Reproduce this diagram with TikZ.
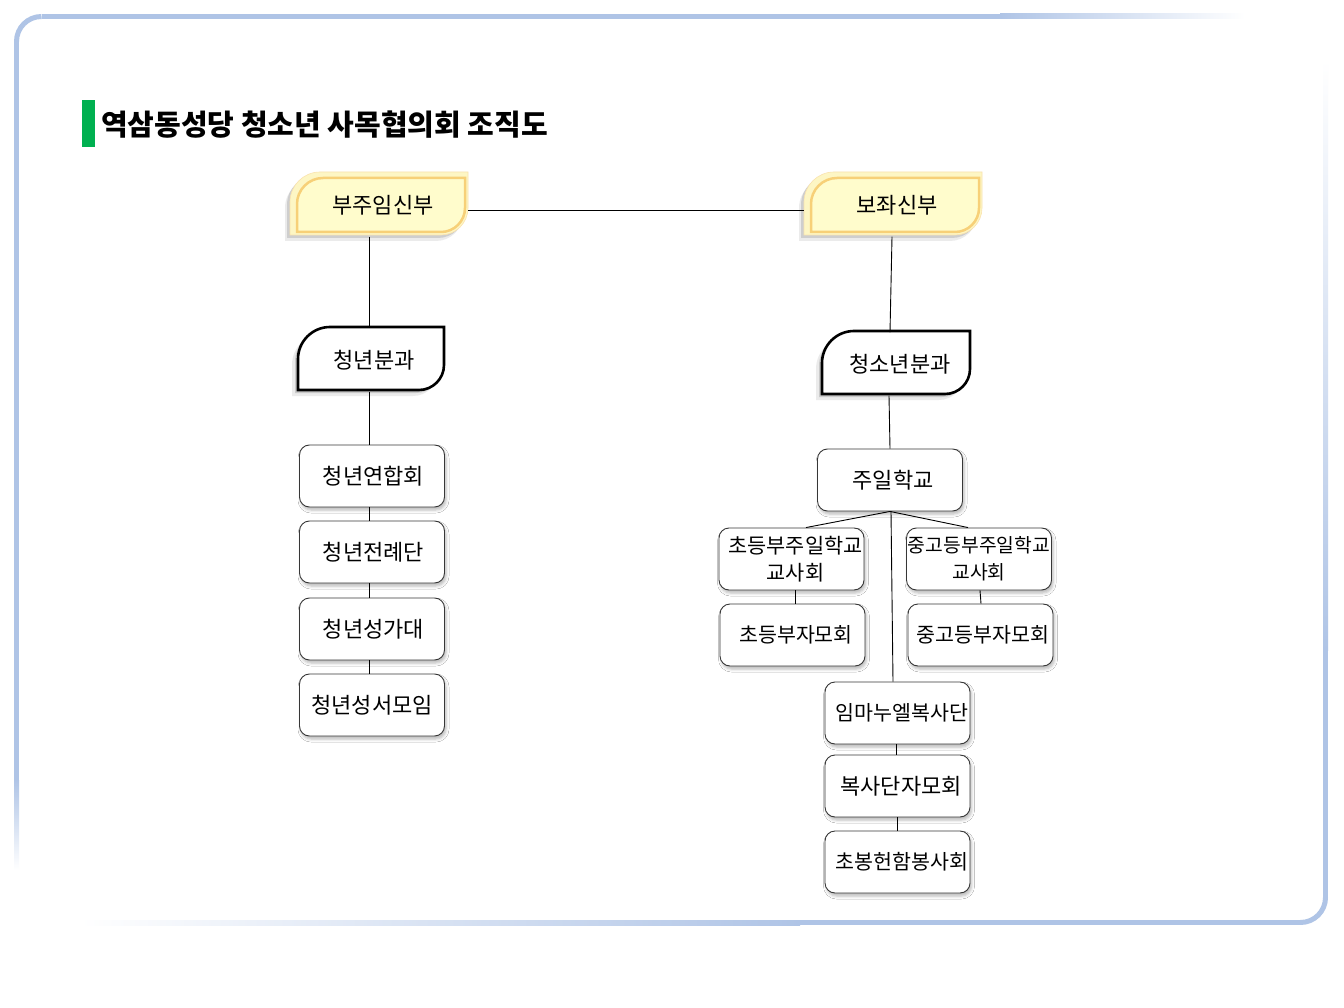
\documentclass[tikz,border=0pt]{standalone}
\usepackage{fontspec}
\setmainfont{Noto Sans CJK KR}
\usetikzlibrary{shadows.blur,calc}
\definecolor{frameblue}{RGB}{175,196,230}
\definecolor{leafyel}{RGB}{255,252,204}
\definecolor{leafout}{RGB}{253,246,196}
\definecolor{leaforange}{RGB}{247,208,120}
\definecolor{boxline}{RGB}{55,55,55}
\definecolor{titlegreen}{RGB}{0,176,80}
% x1 y1 x2 y2 rTL rBR style
\newcommand\leafshape[7]{%
  \path[#7] (#1,#4) -- (#1,#2+#5) .. controls (#1,#2+0.45*#5) and (#1+0.45*#5,#2) .. (#1+#5,#2)
    -- (#3,#2) -- (#3,#4-#6) .. controls (#3,#4-0.45*#6) and (#3-0.45*#6,#4) .. (#3-#6,#4) -- cycle;}
\newcommand\yleaf[4]{%
  \leafshape{#1-5}{#2+6}{#3-5}{#4+6}{30}{27}{fill=black,opacity=0.08}
  \leafshape{#1-3}{#2+3}{#3-3}{#4+3}{30}{27}{fill=black,opacity=0.12}
  \leafshape{#1}{#2}{#3}{#4}{30}{27}{fill=leafout,draw=leaforange!60,line width=0.6pt}
  \leafshape{#1+7}{#2+6}{#3-3}{#4-3}{26}{24}{fill=leafyel,draw=leaforange,line width=2.5pt}}
\newcommand\bleaf[4]{%
  \leafshape{#1-6}{#2+6}{#3-6}{#4+6}{32}{25}{fill=black,opacity=0.08}
  \leafshape{#1-3}{#2+3}{#3-3}{#4+3}{32}{25}{fill=black,opacity=0.14}
  \leafshape{#1}{#2}{#3}{#4}{32}{25}{fill=white,draw=black,line width=2.6pt}}
\tikzset{
  conn/.style={draw=black,line width=0.9pt},
  lbl/.style={rectangle,inner sep=0pt,minimum width=#1,minimum height=63pt,
    font=\fontsize{22}{26}\selectfont},
  rbox/.style={rectangle,rounded corners=10pt,draw=boxline,line width=0.9pt,fill=white,
    minimum width=145pt,minimum height=62pt,inner sep=0pt,align=center,
    font=\fontsize{22}{27}\selectfont,
    blur shadow={shadow xshift=1.5pt,shadow yshift=-3pt,shadow blur radius=3pt,shadow opacity=28}},
  narrow/.style={font=\fontsize{20.6}{27}\selectfont},
}
\begin{document}
\begin{tikzpicture}[x=1pt,y=-1pt]
\useasboundingbox[fill=white] (0,0) rectangle (1344,1008);
% frame
\draw[frameblue,line width=5pt] (16.5,41.5) .. controls (16.5,27.7) and (27.7,16.5) .. (41.5,16.5);
\draw[frameblue,line width=5pt] (1325.5,897.5) .. controls (1325.5,911.3) and (1314.3,922.5) .. (1300.5,922.5);
\fill[frameblue] (41.5,14) rectangle (1000,19);
\shade[left color=frameblue,right color=white] (1000,14) rectangle (1245,19);
\fill[frameblue] (14,41.5) rectangle (19,780);
\shade[top color=frameblue,bottom color=white] (14,780) rectangle (19,870);
\shade[top color=white,bottom color=frameblue] (1323,60) rectangle (1328,650);
\fill[frameblue] (1323,650) rectangle (1328,897.5);
\shade[left color=white,right color=frameblue] (80,920) rectangle (800,925);
\fill[frameblue] (800,920) rectangle (1300.5,925);
% title
\fill[titlegreen] (82,100) rectangle (95,147);
\node[anchor=west,inner sep=0pt,font=\bfseries\fontsize{29}{32}\selectfont] (title) at (101,125) {역삼동성당 청소년 사목협의회 조직도};
% leaf shapes
\yleaf{290}{172}{468}{235}
\yleaf{804}{172}{982}{235}
\bleaf{298}{327}{444}{390}
\bleaf{822}{331}{970}{394}
\node[lbl=178pt] (bu) at (379,205) {\hspace*{8pt}부주임신부};
\node[lbl=178pt] (bo) at (893,205) {\hspace*{8pt}보좌신부};
\node[lbl=146pt] (cn) at (371,360) {\hspace*{6pt}청년분과};
\node[lbl=148pt] (cs) at (896,364) {\hspace*{8pt}청소년분과};
% left boxes
\node[rbox] (l1) at (372,476) {\hspace*{3pt}청년연합회};
\node[rbox] (l2) at (372,552) {\hspace*{3pt}청년전례단};
\node[rbox] (l3) at (372,629) {\hspace*{3pt}청년성가대};
\node[rbox] (l4) at (372,705) {청년성서모임};
% right boxes
\node[rbox] (jil) at (890,480) {\hspace*{6pt}주일학교};
\node[rbox,font=\fontsize{20.8}{27}\selectfont] (cg) at (791.5,559) {\hspace*{8pt}초등부주일학교\\\hspace*{8pt}교사회};
\node[rbox,font=\fontsize{19.3}{27}\selectfont] (jg) at (979,559) {중고등부주일학교\\교사회};
\node[rbox,narrow] (cj) at (792.5,635) {\hspace*{7pt}초등부자모회};
\node[rbox,narrow] (jj) at (980.5,635) {\hspace*{5pt}중고등부자모회};
\node[rbox,narrow] (im) at (897.5,713) {\hspace*{9pt}임마누엘복사단};
\node[rbox] (bj) at (897.5,786) {\hspace*{7pt}복사단자모회};
\node[rbox,narrow] (cb) at (897.5,862) {\hspace*{9pt}초봉헌함봉사회};
% connectors
\draw[conn] ([yshift=-5pt]bu.east) -- ([yshift=-5pt]bo.west);
\draw[conn] ([xshift=-10pt]bu.south) -- ([xshift=-2pt]cn.north);
\draw[conn] ([xshift=-2pt]cn.south) -- ([xshift=-3pt]l1.north);
\draw[conn] ([xshift=-3pt]l1.south) -- ([xshift=-3pt]l2.north);
\draw[conn] ([xshift=-3pt]l2.south) -- ([xshift=-3pt]l3.north);
\draw[conn] ([xshift=-3pt]l3.south) -- ([xshift=-3pt]l4.north);
\draw[conn] ([xshift=-1pt]bo.south) -- ([xshift=-6pt]cs.north);
\draw[conn] ([xshift=-7pt]cs.south) -- (jil.north);
\draw[conn] (jil.south) -- ([xshift=14.5pt]cg.north);
\draw[conn] (jil.south) -- ([xshift=-11pt]jg.north);
\draw[conn] ([xshift=1pt]jil.south) -- ([xshift=-4.5pt]im.north);
\draw[conn] ([xshift=3.5pt]cg.south) -- ([xshift=2.5pt]cj.north);
\draw[conn] ([xshift=1pt]jg.south) -- ([xshift=0.5pt]jj.north);
\draw[conn] ([xshift=-1.5pt]im.south) -- ([xshift=-1.5pt]bj.north);
\draw[conn] ([xshift=-0.5pt]bj.south) -- ([xshift=-0.5pt]cb.north);
\end{tikzpicture}
\end{document}
